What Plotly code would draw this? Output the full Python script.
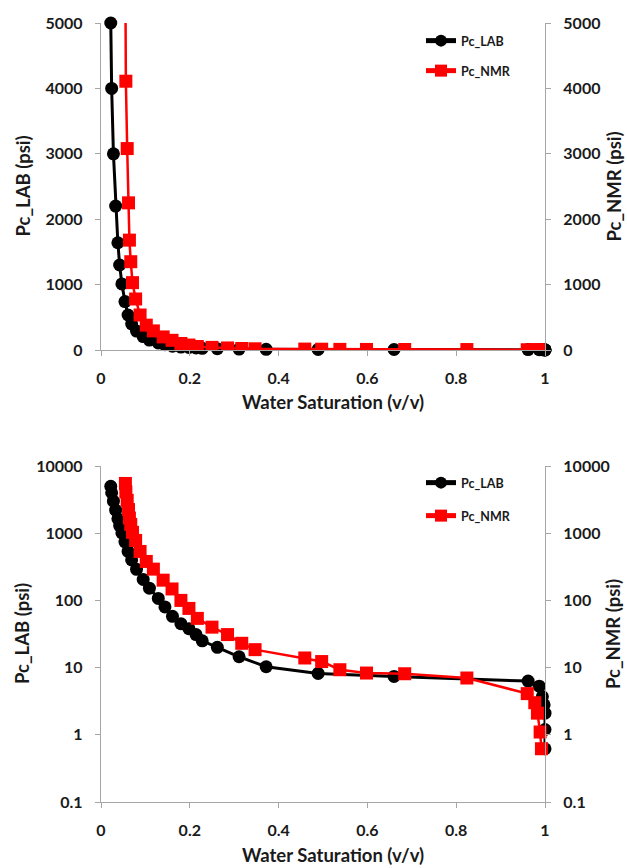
import plotly.graph_objects as go

# Capillary pressure curves: lab measurement vs NMR-derived
sw_lab = [0.022, 0.024, 0.028, 0.033, 0.038, 0.042, 0.047, 0.054, 0.061, 0.069,
          0.080, 0.095, 0.109, 0.129, 0.144, 0.161, 0.180, 0.198, 0.214, 0.228,
          0.262, 0.311, 0.372, 0.489, 0.660, 0.962, 0.987, 0.994, 0.998, 1.0,
          1.0, 1.0]
pc_lab = [5000, 4000, 3000, 2200, 1640, 1300, 1010, 740, 535, 400,
          290, 205, 152, 107, 80, 58, 45, 38, 31, 25,
          20, 14.5, 10.3, 8.2, 7.4, 6.3, 5.3, 3.7, 2.8, 2.1,
          1.2, 0.62]

sw_nmr = [0.055, 0.056, 0.059, 0.062, 0.064, 0.067, 0.071, 0.078, 0.088, 0.102,
          0.118, 0.140, 0.160, 0.180, 0.198, 0.217, 0.250, 0.285, 0.317, 0.347,
          0.459, 0.497, 0.538, 0.598, 0.684, 0.824, 0.960, 0.977, 0.983, 0.989,
          0.992]
pc_nmr = [5500, 4110, 3080, 2250, 1680, 1350, 1030, 780, 535, 380,
          292, 200, 148, 100, 76, 54, 40, 31, 23, 18.5,
          13.9, 12.3, 9.3, 8.3, 8.1, 7.0, 4.1, 3.0, 2.1, 1.1,
          0.62]

lin_ticks = [0, 1000, 2000, 3000, 4000, 5000]
log_ticks = [0.1, 1, 10, 100, 1000, 10000]
log_labels = ["0.1", "1", "10", "100", "1000", "10000"]
x_ticks = [0, 0.2, 0.4, 0.6, 0.8, 1]

FONT = "Lato"
TXT = "#1a1a1a"
AX = "#a6a6a6"

W, H = 627, 868
L, R, T, B = 101, 82, 23, 66
PW, PH = W - L - R, H - T - B


def py(pix):
    return (H - B - pix) / PH


def px(pix):
    return (pix - L) / PW


top_dom = [py(350), 1.0]
bot_dom = [0.0, py(466)]

fig = go.Figure()

lab_style = dict(mode="lines+markers", line=dict(color="#000000", width=3),
                 marker=dict(symbol="circle", size=13, color="#000000"))
nmr_style = dict(mode="lines+markers", line=dict(color="#ff0000", width=2.5),
                 marker=dict(symbol="square", size=13, color="#ff0000"))

# top panel (linear)
fig.add_trace(go.Scatter(x=sw_lab, y=pc_lab, name="Pc_LAB", xaxis="x", yaxis="y",
                         cliponaxis=False, legend="legend", **lab_style))
fig.add_trace(go.Scatter(x=sw_nmr, y=pc_nmr, name="Pc_NMR", xaxis="x", yaxis="y2",
                         cliponaxis=True, legend="legend2", **nmr_style))
# bottom panel (log)
fig.add_trace(go.Scatter(x=sw_lab, y=pc_lab, name="Pc_LAB", xaxis="x2", yaxis="y3",
                         cliponaxis=False, legend="legend3", **lab_style))
fig.add_trace(go.Scatter(x=sw_nmr, y=pc_nmr, name="Pc_NMR", xaxis="x2", yaxis="y4",
                         cliponaxis=False, legend="legend4", **nmr_style))

tickfont = dict(family=FONT, size=16, color=TXT, weight="bold")
axis_common = dict(showline=True, linecolor=AX, linewidth=1.3, ticks="outside",
                   ticklen=5, tickcolor=AX, tickwidth=1.3, showgrid=False,
                   zeroline=False, tickfont=tickfont, ticklabelstandoff=9)

xa = dict(range=[0, 1], tickvals=x_ticks, **axis_common)
fig.update_layout(
    xaxis=dict(anchor="y", domain=[0, 1], **xa),
    xaxis2=dict(anchor="y3", domain=[0, 1], **xa),
    yaxis=dict(domain=top_dom, anchor="x", range=[0, 5000], tickvals=lin_ticks, **axis_common),
    yaxis2=dict(domain=top_dom, anchor="x", overlaying="y", side="right",
                range=[0, 5000], tickvals=lin_ticks, **axis_common),
    yaxis3=dict(domain=bot_dom, anchor="x2", type="log", range=[-1, 4],
                tickvals=log_ticks, ticktext=log_labels, **axis_common),
    yaxis4=dict(domain=bot_dom, anchor="x2", overlaying="y3", side="right", type="log",
                range=[-1, 4], tickvals=log_ticks, ticktext=log_labels, **axis_common),
)

leg_font = dict(family=FONT, size=12.5, color=TXT, weight="bold")


def legend_at(ypix):
    return dict(x=px(421), y=py(ypix), xanchor="left", yanchor="middle",
                bgcolor="rgba(0,0,0,0)", font=leg_font, itemwidth=30,
                itemsizing="constant")


fig.update_layout(
    legend=legend_at(41), legend2=legend_at(71),
    legend3=legend_at(483), legend4=legend_at(516),
)

title_font = dict(family=FONT, size=18.5, color=TXT, weight="bold")
annotations = []
for ymid, xtitle_pix in [((23 + 350) / 2, 402), ((466 + 802) / 2, 855)]:
    annotations.append(dict(text="Pc_LAB (psi)", x=px(22), y=py(ymid), xref="paper",
                            yref="paper", textangle=-90, showarrow=False,
                            font=title_font, xanchor="center", yanchor="middle"))
    annotations.append(dict(text="Pc_NMR (psi)", x=px(613), y=py(ymid), xref="paper",
                            yref="paper", textangle=-90, showarrow=False,
                            font=title_font, xanchor="center", yanchor="middle"))
    annotations.append(dict(text="Water Saturation (v/v)", x=px(333), y=py(xtitle_pix),
                            xref="paper", yref="paper", showarrow=False,
                            font=title_font, xanchor="center", yanchor="middle"))

fig.update_layout(
    width=W, height=H, margin=dict(l=L, r=R, t=T, b=B),
    paper_bgcolor="white", plot_bgcolor="white",
    annotations=annotations, showlegend=True,
)

fig.write_html("out.html")
